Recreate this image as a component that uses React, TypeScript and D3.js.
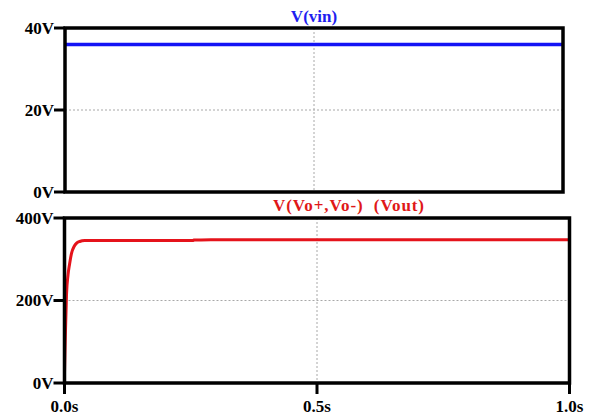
import React from "react";
import * as d3 from "d3";

// ---- data ----
const vinTime = [0, 1];
const vinValues = [36, 36];

const voutTime = [0, 0.001, 0.002, 0.004, 0.007, 0.01, 0.014, 0.019, 0.024, 0.03, 0.04, 0.06, 0.1, 0.2, 0.255, 0.256, 0.29, 0.4, 0.6, 0.8, 1.0];
const voutValues = [25, 80, 128, 215, 262, 288, 315, 331, 339, 343, 345.5, 345.5, 345.5, 345.5, 345.5, 346.8, 347, 347, 347, 347, 347];

const topYTicks = [0, 20, 40];
const topYLabels = ["0V", "20V", "40V"];
const botYTicks = [0, 200, 400];
const botYLabels = ["0V", "200V", "400V"];
const xTicks = [0, 0.5, 1.0];
const xLabels = ["0.0s", "0.5s", "1.0s"];

const topTitle = "V(vin)";
const botTitle = "V(Vo+,Vo-)\u00a0\u00a0(Vout)";

const FONT = "'Liberation Serif', 'Times New Roman', serif";

export default function App() {
  const top = { x0: 65, x1: 563, y0: 28, y1: 192 };
  const bot = { x0: 64.5, x1: 569.5, y0: 218, y1: 383 };

  const xTop = d3.scaleLinear().domain([0, 1]).range([top.x0, top.x1]);
  const yTop = d3.scaleLinear().domain([0, 40]).range([top.y1, top.y0]);
  const xBot = d3.scaleLinear().domain([0, 1]).range([bot.x0, bot.x1]);
  const yBot = d3.scaleLinear().domain([0, 400]).range([bot.y1, bot.y0]);

  const vinLine = d3
    .line<number>()
    .x((_, i) => xTop(vinTime[i]))
    .y((d) => yTop(d))(vinValues) as string;

  const voutLine = d3
    .line<number>()
    .x((_, i) => xBot(voutTime[i]))
    .y((d) => yBot(d))
    .curve(d3.curveMonotoneX)(voutValues) as string;

  const grid = "#a8a8a8";
  const fs = 17;

  return (
    <svg
      width={590}
      height={416}
      style={{ position: "absolute", left: 0, top: 0, background: "#fff" }}
      fontFamily={FONT}
      fontWeight="bold"
    >
      <g>
        <line x1={xTop(0.5)} x2={xTop(0.5)} y1={top.y0} y2={top.y1} stroke={grid} strokeWidth={1} strokeDasharray="2,2" />
        <line x1={top.x0} x2={top.x1} y1={yTop(20)} y2={yTop(20)} stroke={grid} strokeWidth={1} strokeDasharray="2,2" />
        <path d={vinLine} fill="none" stroke="#1414f5" strokeWidth={3.5} />
        <rect x={top.x0} y={top.y0} width={top.x1 - top.x0} height={top.y1 - top.y0} fill="none" stroke="#000" strokeWidth={3.5} />
        {topYTicks.map((t, i) => (
          <g key={"ty" + i}>
            <line x1={top.x0 - 11} x2={top.x0} y1={yTop(t)} y2={yTop(t)} stroke="#000" strokeWidth={3} />
            <text x={top.x0 - 11} y={yTop(t)} textAnchor="end" dominantBaseline="central" fontSize={fs} fill="#000">
              {topYLabels[i]}
            </text>
          </g>
        ))}
        <text x={xTop(0.5)} y={22} textAnchor="middle" fontSize={fs} fill="#1e1ef0">
          {topTitle}
        </text>
      </g>

      <g>
        <line x1={xBot(0.5)} x2={xBot(0.5)} y1={bot.y0} y2={bot.y1} stroke={grid} strokeWidth={1} strokeDasharray="2,2" />
        <line x1={bot.x0} x2={bot.x1} y1={yBot(200)} y2={yBot(200)} stroke={grid} strokeWidth={1} strokeDasharray="2,2" />
        <path d={voutLine} fill="none" stroke="#e5131b" strokeWidth={3} strokeLinejoin="round" />
        <rect x={bot.x0} y={bot.y0} width={bot.x1 - bot.x0} height={bot.y1 - bot.y0} fill="none" stroke="#000" strokeWidth={3.5} />
        {botYTicks.map((t, i) => (
          <g key={"by" + i}>
            <line x1={bot.x0 - 11} x2={bot.x0} y1={yBot(t)} y2={yBot(t)} stroke="#000" strokeWidth={3} />
            <text x={bot.x0 - 11} y={yBot(t)} textAnchor="end" dominantBaseline="central" fontSize={fs} fill="#000">
              {botYLabels[i]}
            </text>
          </g>
        ))}
        {xTicks.map((t, i) => (
          <g key={"bx" + i}>
            <line x1={xBot(t)} x2={xBot(t)} y1={bot.y1} y2={bot.y1 + 11} stroke="#000" strokeWidth={3} />
            <text x={xBot(t)} y={412} textAnchor="middle" fontSize={fs} fill="#000">
              {xLabels[i]}
            </text>
          </g>
        ))}
        <text x={273} y={211} textAnchor="start" fontSize={fs} fill="#e01818" textLength={151} lengthAdjust="spacing">
          {botTitle}
        </text>
      </g>
    </svg>
  );
}
